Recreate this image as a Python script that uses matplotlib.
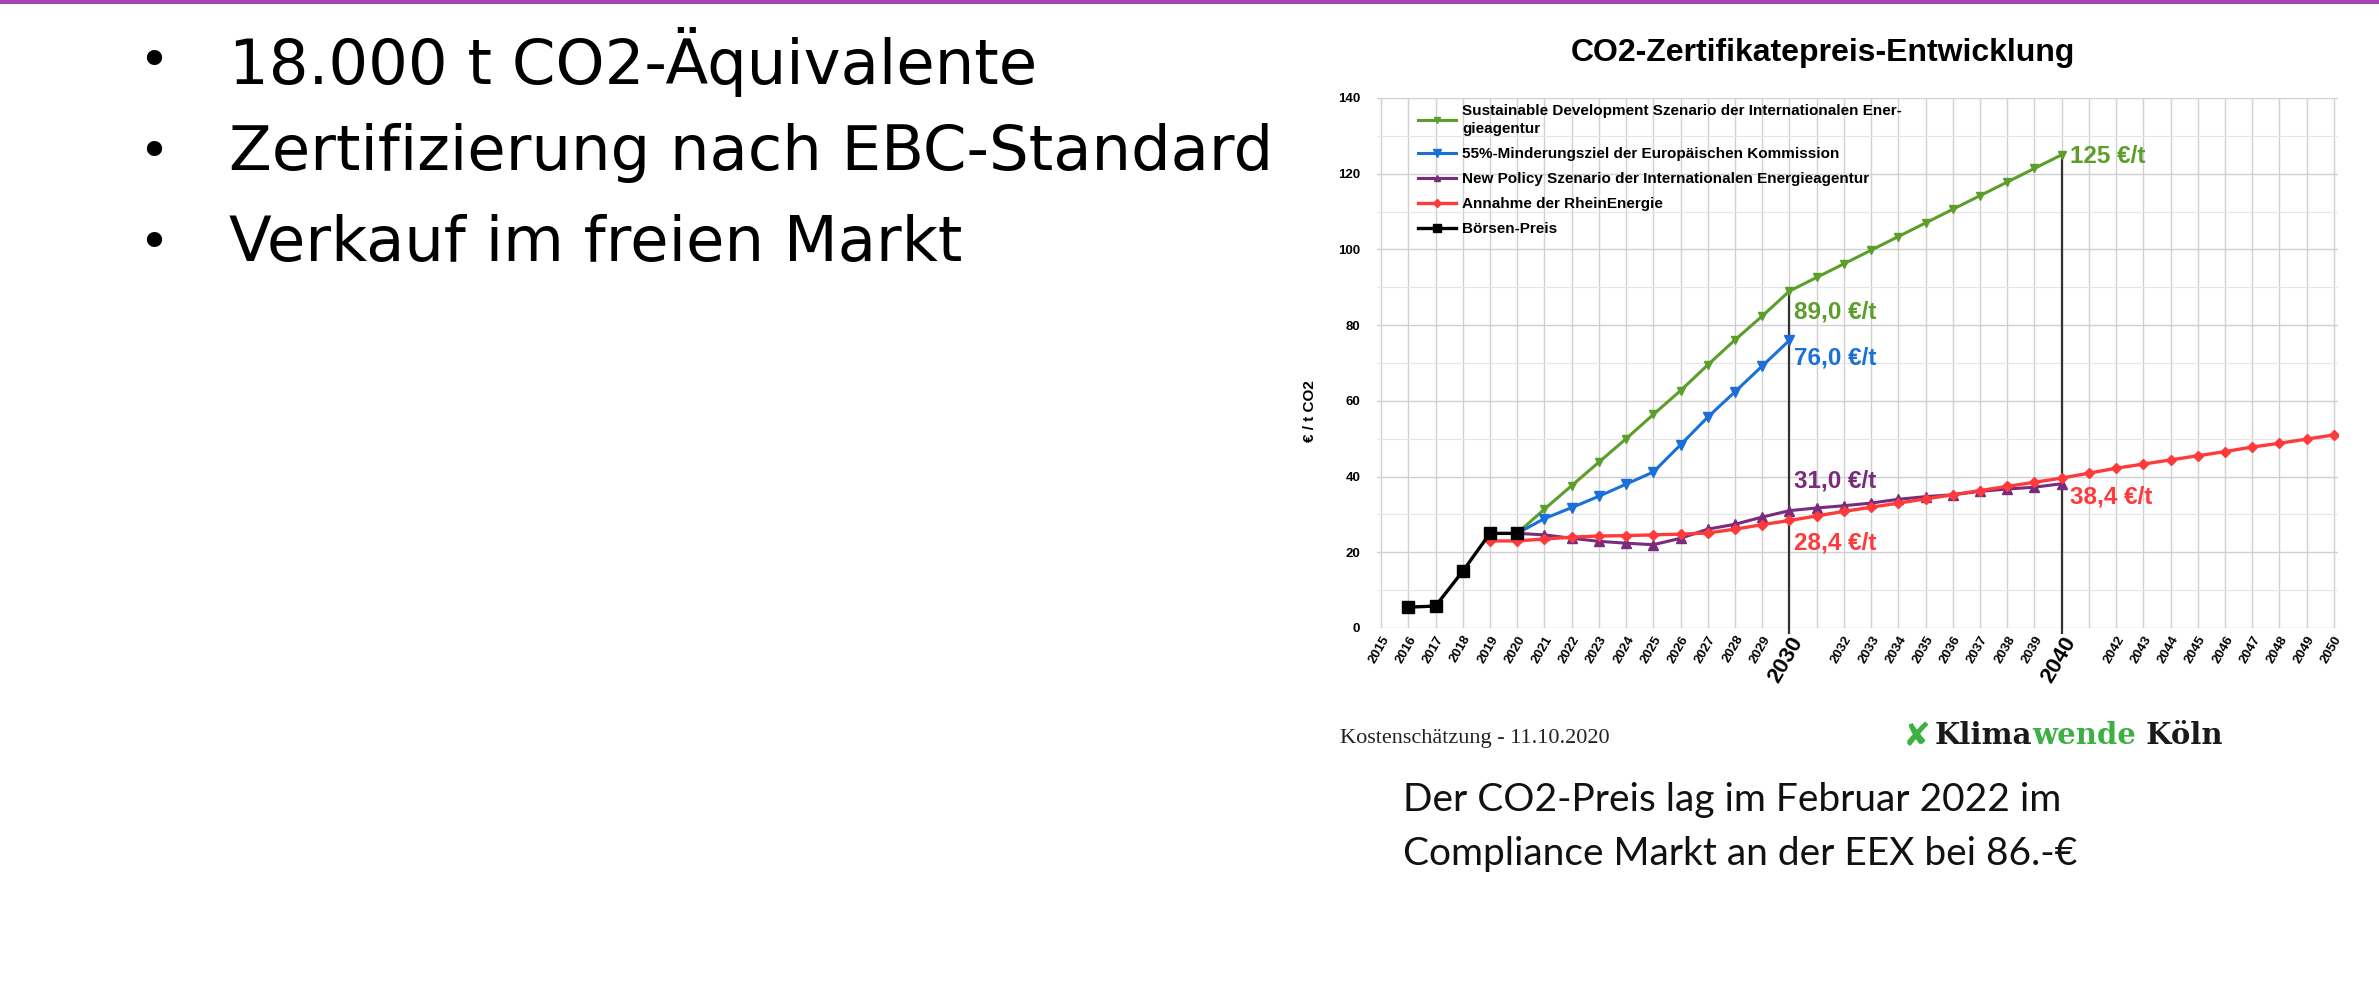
import matplotlib
matplotlib.use('Agg')
import matplotlib.pyplot as plt
import matplotlib.patches as patches
from matplotlib.ticker import MultipleLocator

# --- data ---
years_boerse = [2016, 2017, 2018, 2019, 2020]
boerse = [5.5, 5.8, 15.0, 25.0, 25.0]

years_sds = list(range(2020, 2041))
sds = [25.0, 31.4, 37.6, 43.8, 50.0, 56.4, 62.7, 69.5, 76.1, 82.4, 89.0,
       92.6, 96.2, 99.8, 103.4, 107.0, 110.6, 114.2, 117.8, 121.4, 125.0]

years_eu = list(range(2020, 2031))
eu = [25.0, 28.9, 31.8, 34.8, 38.0, 41.2, 48.4, 55.7, 62.4, 69.2, 76.0]

years_nps = list(range(2020, 2041))
nps = [25.0, 24.6, 23.7, 22.9, 22.4, 22.0, 23.7, 26.1, 27.4, 29.3, 31.0,
       31.7, 32.3, 33.0, 34.0, 34.7, 35.2, 36.1, 36.7, 37.2, 38.1]

years_rhein = list(range(2019, 2051))
rhein = [23.0, 23.0, 23.5, 24.0, 24.3, 24.4, 24.6, 24.8, 25.1, 26.1, 27.3, 28.4,
         29.6, 30.8, 31.9, 33.0, 34.1, 35.2, 36.3, 37.4, 38.5, 39.6,
         40.9, 42.2, 43.3, 44.4, 45.5, 46.6, 47.8, 48.8, 49.9, 51.0]

tick_years = list(range(2015, 2051))
tick_labels = ['' if y in (2031, 2041) else str(y) for y in tick_years]

labels = ['Sustainable Development Szenario der Internationalen Ener-\ngieagentur',
          '55%-Minderungsziel der Europäischen Kommission',
          'New Policy Szenario der Internationalen Energieagentur',
          'Annahme der RheinEnergie',
          'Börsen-Preis']

bullets = ['18.000 t CO2-Äquivalente',
           'Zertifizierung nach EBC-Standard',
           'Verkauf im freien Markt']

note_lines = ['Der CO2-Preis lag im Februar 2022 im',
              'Compliance Markt an der EEX bei 86.-€']

GREEN = '#5c9e2a'
BLUE = '#1a70d6'
PURPLE = '#7a2c7c'
RED = '#ff3a3a'
SANS = ['Liberation Sans', 'DejaVu Sans']

W, H = 2379, 983
fig = plt.figure(figsize=(W / 100, H / 100), dpi=100)

def fx(px):
    return px / W

def fy(py):
    return 1 - py / H

# purple bar at the top of the slide
fig.patches.append(patches.Rectangle((0, fy(4)), 1, 4 / H, transform=fig.transFigure,
                                     facecolor='#a445b0', edgecolor='none'))

# bullet list on the left
for i, b in enumerate(bullets):
    y = fy(62 + i * 91)
    fig.text(fx(138), y, '•', fontsize=38, va='center', ha='left', family='DejaVu Sans')
    fig.text(fx(229), y, b, fontsize=45, va='center', ha='left', family='DejaVu Sans')

# chart
ax = fig.add_axes([fx(1377), fy(628), fx(2338) - fx(1377), (628 - 98) / H])

ax.plot(years_sds, sds, color=GREEN, lw=2.2, marker='v', ms=6, label=labels[0], zorder=3)
ax.plot(years_eu, eu, color=BLUE, lw=2.2, marker='v', ms=7.5, label=labels[1], zorder=4)
ax.plot(years_nps, nps, color=PURPLE, lw=2.2, marker='^', ms=6.5, label=labels[2], zorder=5)
ax.plot(years_rhein, rhein, color=RED, lw=2.4, marker='D', ms=5.5, label=labels[3], zorder=6)
ax.plot(years_boerse, boerse, color='black', lw=2.4, marker='s', ms=8, label=labels[4], zorder=7)

# marker lines at 2030 / 2040
ax.vlines([2030, 2040], -1.5, [sds[10], sds[20]], color='#333333', lw=1.6, zorder=2, clip_on=False)

ax.set_xlim(2014.85, 2050.15)
ax.set_ylim(0, 140)
ax.yaxis.set_major_locator(MultipleLocator(20))
ax.yaxis.set_minor_locator(MultipleLocator(10))
ax.set_xticks(tick_years)
ax.set_xticklabels(tick_labels, rotation=60, ha='right', rotation_mode='anchor',
                   fontsize=9.5, fontweight='bold', family=SANS)
for t in ax.get_xticklabels():
    if t.get_text() in ('2030', '2040'):
        t.set_fontsize(16)
ax.tick_params(axis='both', which='both', length=0, pad=4)
ax.tick_params(axis='y', labelsize=9.5, pad=12)
for t in ax.get_yticklabels():
    t.set_family(SANS)
    t.set_fontweight('bold')
ax.grid(True, which='major', color='#d0d0d0', lw=1.0)
ax.grid(True, which='minor', axis='y', color='#e6e6e6', lw=0.8)
ax.set_axisbelow(True)
for s in ax.spines.values():
    s.set_visible(False)

ax.set_ylabel('€ / t CO2', fontsize=11, fontweight='bold', family=SANS)
ax.yaxis.set_label_coords(-0.062, 0.41)

# value annotations
ann = dict(fontsize=17.5, fontweight='bold', family=SANS, va='center', ha='left')
ax.text(2030.15, 83.6, '89,0 €/t', color=GREEN, **ann)
ax.text(2030.15, 71.2, '76,0 €/t', color=BLUE, **ann)
ax.text(2030.15, 38.7, '31,0 €/t', color=PURPLE, **ann)
ax.text(2030.15, 22.4, '28,4 €/t', color=RED, **ann)
ax.text(2040.3, 124.6, '125 €/t', color=GREEN, **ann)
ax.text(2040.3, 34.7, '38,4 €/t', color=RED, **ann)

leg = ax.legend(loc='upper left', bbox_to_anchor=(fx(1410), fy(96)), bbox_transform=fig.transFigure,
                frameon=False, borderpad=0, handlelength=2.5, handletextpad=0.4, labelspacing=0.72,
                markerscale=0.7, prop={'family': SANS, 'weight': 'bold', 'size': 11})
leg.get_texts()[0].set_linespacing(1.4)

fig.text(fx(1823), fy(53), 'CO2-Zertifikatepreis-Entwicklung', fontsize=23, fontweight='bold',
         family=SANS, ha='center', va='center')

# footer
fig.text(fx(1340), fy(739), 'Kostenschätzung - 11.10.2020', fontsize=16, family='Liberation Serif',
         ha='left', va='center', color='#222222')

fig.canvas.draw()
renderer = fig.canvas.get_renderer()
x = 1903
mark = fig.text(fx(x), fy(736), '✘', fontsize=24, color='#3cb043', ha='left', va='center',
                family='DejaVu Sans')
x = mark.get_window_extent(renderer).x1 + 4
for part, col in [('Klima', '#1a1a1a'), ('wende', '#3cb043'), (' Köln', '#1a1a1a')]:
    t = fig.text(fx(x), fy(736), part, fontsize=21, fontweight='bold', color=col,
                 family='DejaVu Serif', ha='left', va='center')
    x = t.get_window_extent(renderer).x1

for i, line in enumerate(note_lines):
    fig.text(fx(1403), fy(800 + i * 54), line, fontsize=28, family='Lato', ha='left',
             va='center', color='#111111')

fig.savefig('out.png', dpi=100)
